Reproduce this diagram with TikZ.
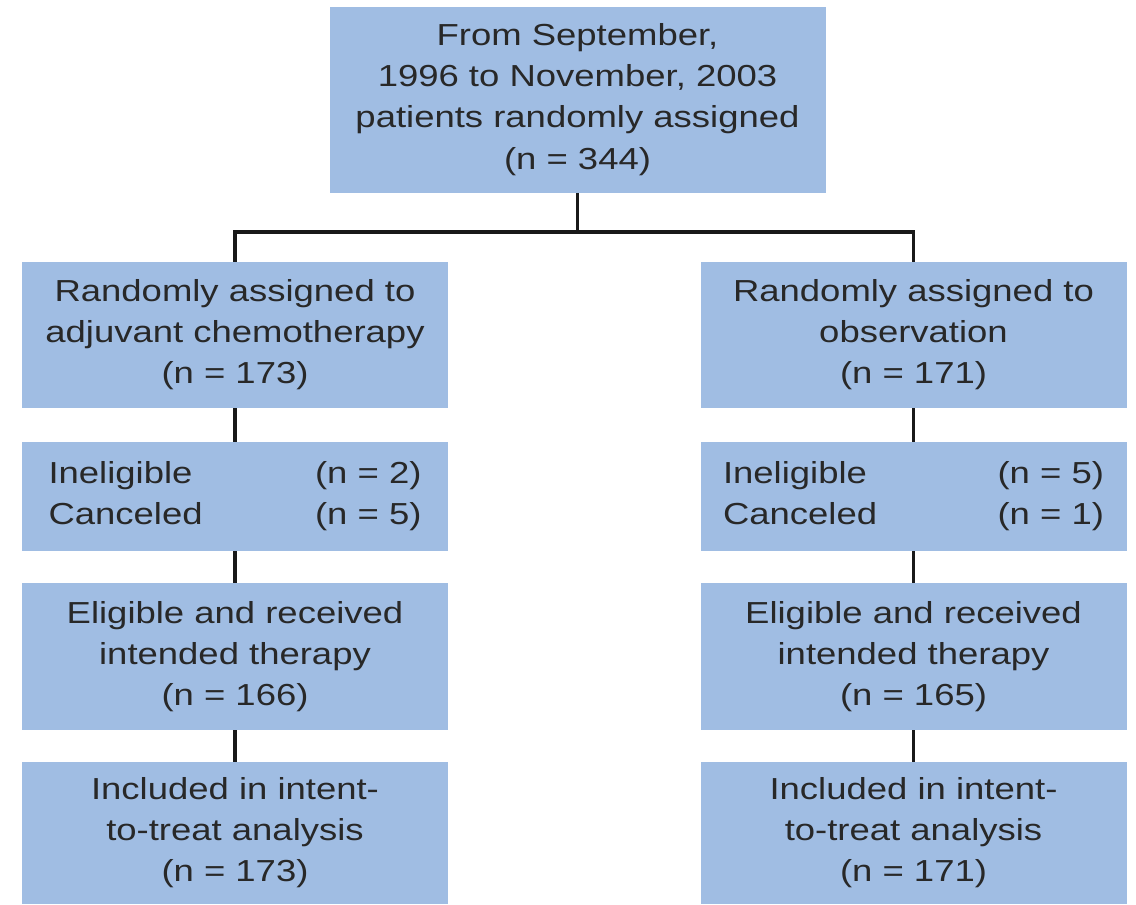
\documentclass[tikz,border=0pt]{standalone}
\usepackage{fontspec}
\setmainfont{Liberation Sans}[FakeStretch=1.2]
\definecolor{boxblue}{RGB}{160,189,227}
\definecolor{txt}{RGB}{40,40,40}
\definecolor{ln}{RGB}{25,25,25}
\begin{document}
\begin{tikzpicture}[x=0.02cm,y=-0.02cm,
  box/.style={fill=boxblue,draw=none,text=txt,align=center,inner sep=0pt,
    font=\fontsize{17.3}{23.4}\selectfont},
  colbox/.style={box,minimum width={426*0.02cm}},
  conn/.style={draw=ln,line width=2.2pt}]
\useasboundingbox (0,0) rectangle (1136,904);
\node[box,minimum width={496*0.02cm},minimum height={186*0.02cm}] (top) at (577.5,99.5)
  {From September,\\1996 to November, 2003\\patients randomly assigned\\(n = 344)};
% left column
\node[colbox,minimum height={146*0.02cm}] (l1) at (235,335)
  {Randomly assigned to\\adjuvant chemotherapy\\(n = 173)};
\node[colbox,minimum height={109*0.02cm},text width={373*0.02cm},align=left] (l2) at (235,496.5)
  {Ineligible\hfill(n = 2)\\Canceled\hfill(n = 5)};
\node[colbox,minimum height={147*0.02cm}] (l3) at (235,656.5)
  {Eligible and received\\intended therapy\\(n = 166)};
\node[colbox,minimum height={142*0.02cm}] (l4) at (235,833)
  {Included in intent-\\to-treat analysis\\(n = 173)};
% right column
\node[colbox,minimum height={146*0.02cm}] (r1) at (913.5,335)
  {Randomly assigned to\\observation\\(n = 171)};
\node[colbox,minimum height={109*0.02cm},text width={381*0.02cm},align=left] (r2) at (913.5,496.5)
  {Ineligible\hfill(n = 5)\\Canceled\hfill(n = 1)};
\node[colbox,minimum height={147*0.02cm}] (r3) at (913.5,656.5)
  {Eligible and received\\intended therapy\\(n = 165)};
\node[colbox,minimum height={142*0.02cm}] (r4) at (913.5,833)
  {Included in intent-\\to-treat analysis\\(n = 171)};
\coordinate (j) at (577.5,232);
\draw[conn] (top.south) -- (j);
\draw[conn] (l1.north) |- (j) -| (r1.north);
\draw[conn] (l1) -- (l2);
\draw[conn] (l2) -- (l3);
\draw[conn] (l3) -- (l4);
\draw[conn] (r1) -- (r2);
\draw[conn] (r2) -- (r3);
\draw[conn] (r3) -- (r4);
\end{tikzpicture}
\end{document}
